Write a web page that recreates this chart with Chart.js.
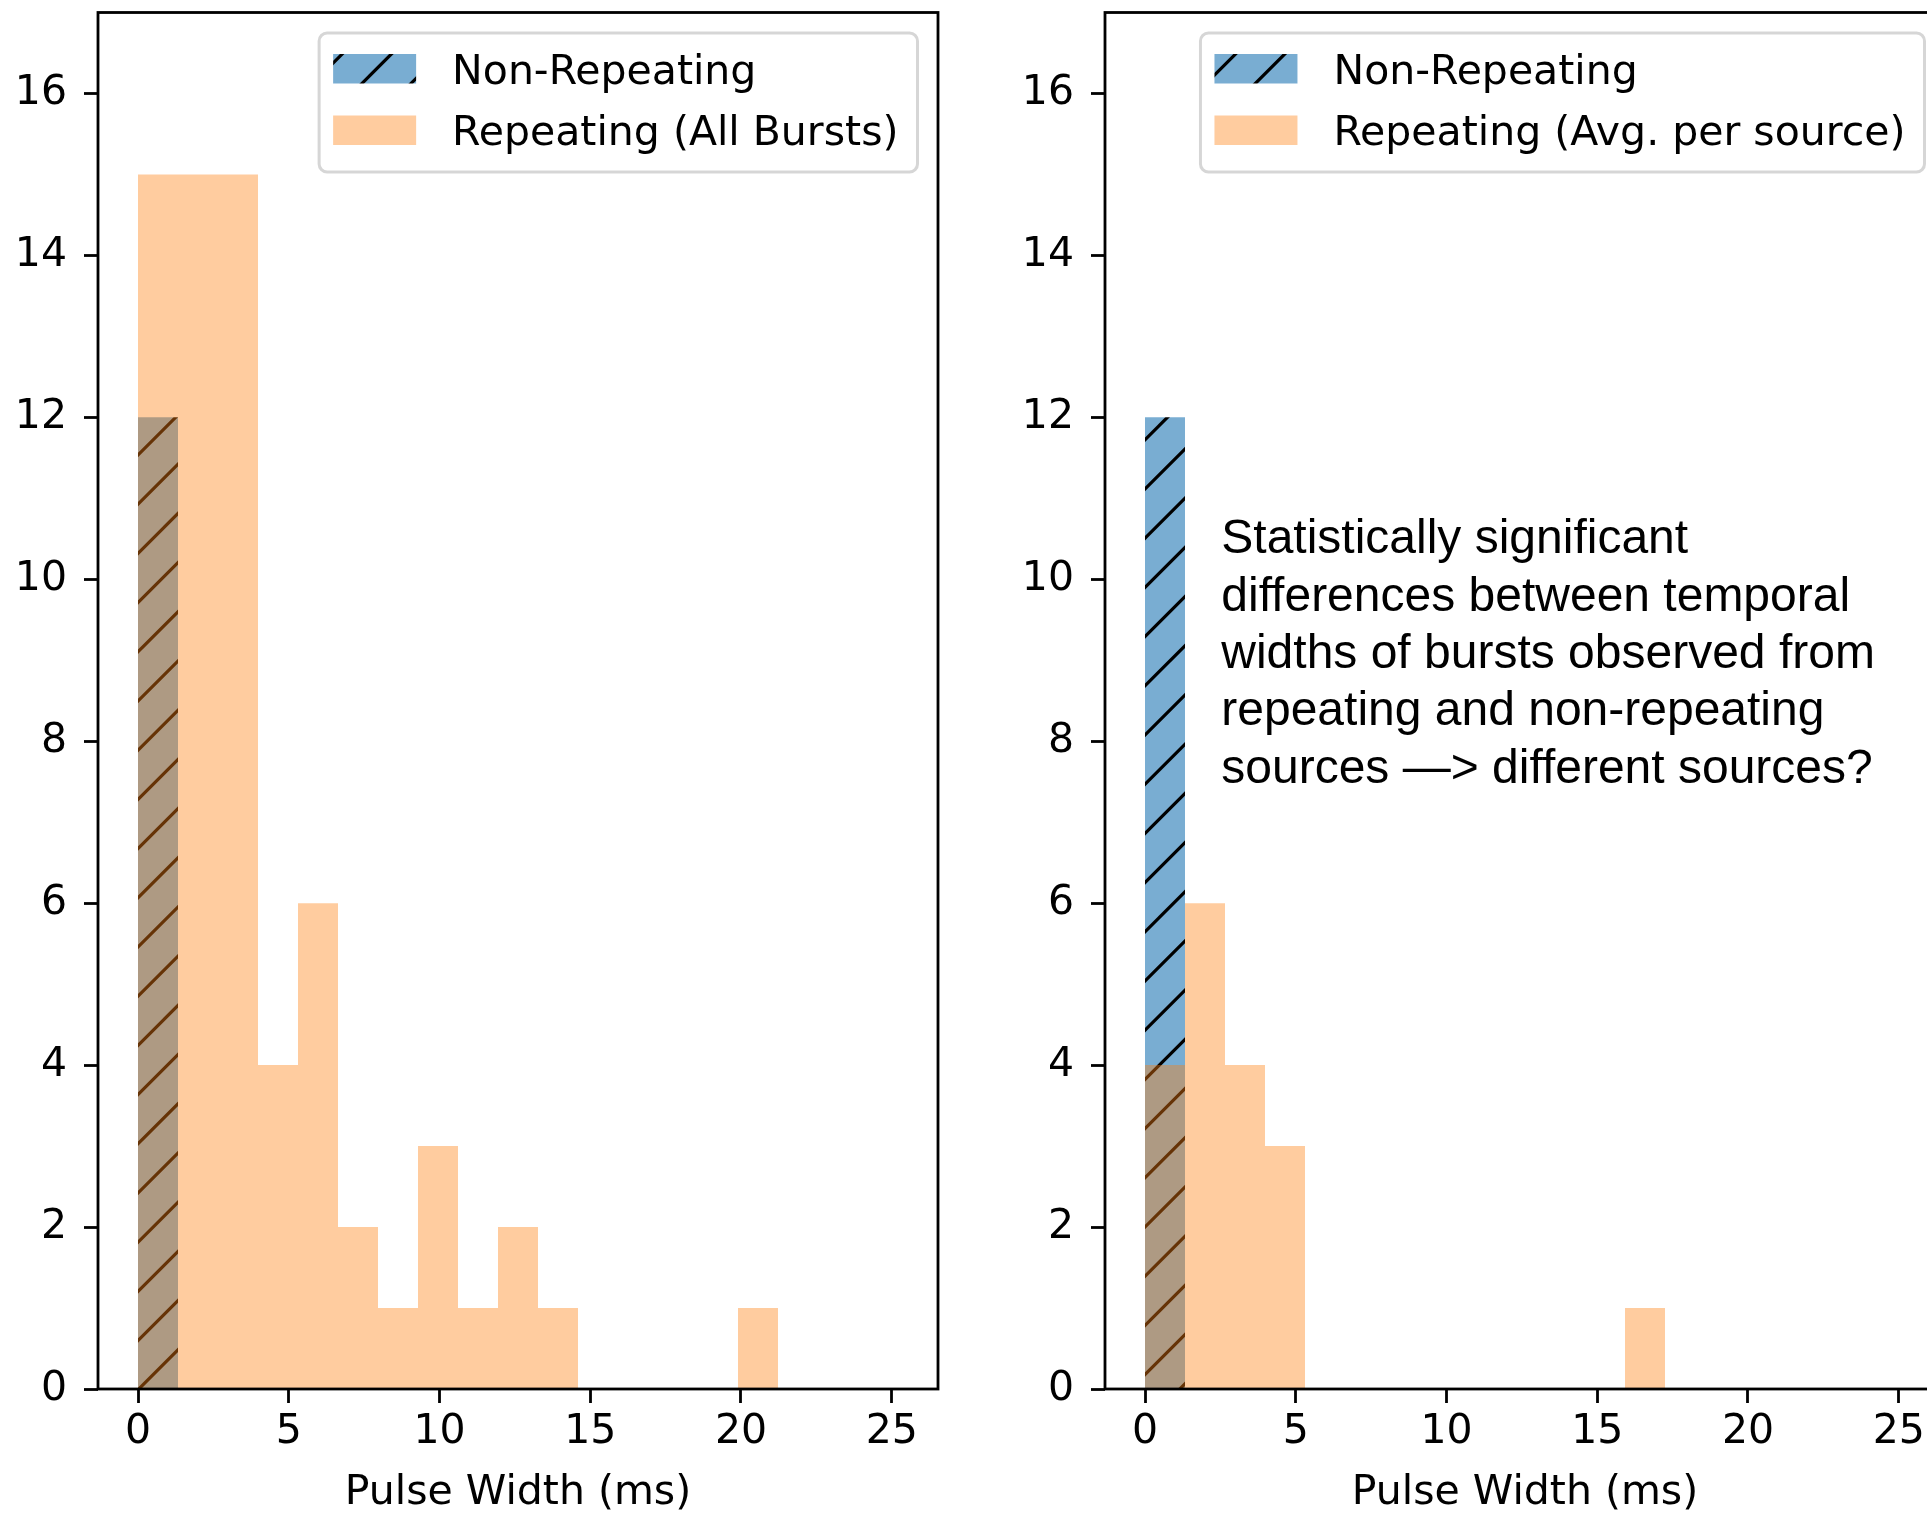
<!DOCTYPE html>
<html>
<head>
<meta charset="utf-8">
<script src="https://cdn.jsdelivr.net/npm/chart.js@4.4.1/dist/chart.umd.min.js"></script>
<style>
    html, body { margin: 0; padding: 0; background: #fff; overflow: hidden; }
    #wrap { position: relative; width: 1927px; height: 1517px; overflow: hidden; }
    canvas { position: absolute; top: 0; }
    #chart1 { left: 0; }
    #chart2 { left: 1007px; }
</style>
</head>
<body>
<div id="wrap">
    <canvas id="chart1" width="960" height="1517"></canvas>
    <canvas id="chart2" width="960" height="1517"></canvas>
</div>
<script>
// histogram bin edges, ms (19 bins)
var binEdges = [0, 1.3267, 2.6534, 3.9801, 5.3068, 6.6335, 7.9602, 9.2869, 10.6136, 11.9403, 13.267, 14.5937, 15.9204, 17.2471, 18.5738, 19.9005, 21.2272, 22.5539, 23.8806, 25.2073];
// counts per bin
var nonRepLeft = [12, 0, 0, 0, 0, 0, 0, 0, 0, 0, 0, 0, 0, 0, 0, 0, 0, 0, 0];
var repAllBursts = [15, 15, 15, 4, 6, 2, 1, 3, 1, 2, 1, 0, 0, 0, 0, 1, 0, 0, 0];
var nonRepRight = [12, 0, 0, 0, 0, 0, 0, 0, 0, 0, 0, 0, 0, 0, 0, 0, 0, 0, 0];
var repAvgSource = [4, 6, 4, 3, 0, 0, 0, 0, 0, 0, 0, 0, 1, 0, 0, 0, 0, 0, 0];
var xRange = [-1.3267, 26.534];
var yRange = [0, 17];
var xTickStep = 5;
var yTickStep = 2;
var noteLines = [
    "Statistically significant",
    "differences between temporal",
    "widths of bursts observed from",
    "repeating and non-repeating",
    "sources \u2014> different sources?"
];

var binCenters = [];
for (var i = 0; i < binEdges.length - 1; i++) {
    binCenters.push((binEdges[i] + binEdges[i + 1]) / 2);
}
function toPoints(counts) {
    return counts.map(function (c, i) { return { x: binCenters[i], y: c }; });
}

// "/" hatch over translucent blue, phase in canvas px
function hatch(phase) {
    var p = 49.2, n = 10, size = p * n;
    var c = document.createElement("canvas");
    c.width = size;
    c.height = size;
    var g = c.getContext("2d");
    g.fillStyle = "rgba(31,119,180,0.6)";
    g.fillRect(0, 0, size, size);
    g.strokeStyle = "#000";
    g.lineWidth = 3.2;
    for (var k = -2; k <= 2 * n + 2; k++) {
        var s = phase + k * p;
        g.beginPath();
        g.moveTo(s + p, -p);
        g.lineTo(-p, s + p);
        g.stroke();
    }
    return g.createPattern(c, "repeat");
}

var tickFont = { family: "'DejaVu Sans', sans-serif", size: 41 };

var framePlugin = {
    id: "frame",
    afterDatasetsDraw: function (chart) {
        var a = chart.chartArea, ctx = chart.ctx;
        ctx.save();
        ctx.strokeStyle = "#000";
        ctx.lineWidth = 2.8;
        ctx.strokeRect(a.left, a.top, a.right - a.left, a.bottom - a.top);
        ctx.restore();
    }
};

var noteText = {
    id: "noteText",
    afterDatasetsDraw: function (chart, args, opts) {
        if (!opts.lines) return;
        var ctx = chart.ctx;
        var x = chart.scales.x.getPixelForValue(opts.x);
        var y = chart.scales.y.getPixelForValue(opts.y);
        ctx.save();
        ctx.fillStyle = "#000";
        ctx.font = "48px 'Liberation Sans', Arial, sans-serif";
        ctx.textBaseline = "alphabetic";
        ctx.textAlign = "left";
        opts.lines.forEach(function (t, i) {
            ctx.fillText(t, x, y + i * 57.3);
        });
        ctx.restore();
    }
};

var boxLegend = {
    id: "boxLegend",
    afterDraw: function (chart) {
        var ctx = chart.ctx, a = chart.chartArea;
        var ds = chart.data.datasets;
        ctx.save();
        ctx.font = "41px 'DejaVu Sans', sans-serif";
        var tw = 0;
        ds.forEach(function (d) { tw = Math.max(tw, ctx.measureText(d.label).width); });
        var w = 14 + 83 + 36 + tw + 19, h = 139;
        var x = a.right - 20.5 - w, y = a.top + 20.5;
        ctx.beginPath();
        ctx.roundRect(x, y, w, h, 8);
        ctx.fillStyle = "rgba(255,255,255,0.8)";
        ctx.fill();
        ctx.strokeStyle = "rgba(204,204,204,0.8)";
        ctx.lineWidth = 3;
        ctx.stroke();
        ds.forEach(function (d, i) {
            var sy = y + 21 + i * 61.5;
            ctx.fillStyle = d.backgroundColor;
            ctx.fillRect(x + 14, sy, 83, 29.5);
            ctx.fillStyle = "#000";
            ctx.textBaseline = "alphabetic";
            ctx.fillText(d.label, x + 14 + 83 + 36, sy + 29.5);
        });
        ctx.restore();
    }
};

function histChart(id, nonRep, rep, repLabel, phase, note) {
    var canvas = document.getElementById(id);
    var hatchFill = hatch(phase);
    return new Chart(canvas, {
        type: "bar",
        data: {
            datasets: [
                {
                    label: "Non-Repeating",
                    data: toPoints(nonRep),
                    backgroundColor: hatchFill,
                    borderWidth: 0,
                    inflateAmount: 0,
                    order: 1
                },
                {
                    label: repLabel,
                    data: toPoints(rep),
                    backgroundColor: "rgba(255,127,14,0.4)",
                    borderWidth: 0,
                    inflateAmount: 0,
                    order: 0
                }
            ]
        },
        options: {
            responsive: false,
            animation: false,
            grouped: false,
            barPercentage: 1,
            categoryPercentage: 1,
            layout: { padding: { top: 12.5, right: 22, bottom: 0, left: 0 } },
            plugins: {
                legend: { display: false },
                tooltip: { enabled: false },
                noteText: note
            },
            scales: {
                x: {
                    type: "linear",
                    min: xRange[0],
                    max: xRange[1],
                    offset: false,
                    border: { display: false },
                    grid: { offset: false, drawOnChartArea: false, drawTicks: true, tickLength: 14, tickWidth: 2.8, tickColor: "#000" },
                    ticks: { stepSize: xTickStep, includeBounds: false, autoSkip: false, maxRotation: 0, color: "#000", font: tickFont, padding: 5 },
                    title: { display: true, text: "Pulse Width (ms)", color: "#000", font: tickFont, padding: { top: 0, bottom: -1 } },
                    afterFit: function (s) {
                        s.height = 128;
                        s.paddingLeft = 0;
                        s.paddingRight = 0;
                    }
                },
                y: {
                    min: yRange[0],
                    max: yRange[1],
                    border: { display: false },
                    grid: { drawOnChartArea: false, drawTicks: true, tickLength: 14, tickWidth: 2.8, tickColor: "#000" },
                    ticks: { stepSize: yTickStep, includeBounds: false, color: "#000", font: tickFont, padding: 17 },
                    afterFit: function (s) {
                        s.width = 98;
                        s.paddingTop = 0;
                        s.paddingBottom = 0;
                    }
                }
            }
        },
        plugins: [framePlugin, noteText, boxLegend]
    });
}

//chart 1
histChart("chart1", nonRepLeft, repAllBursts, "Repeating (All Bursts)", 2.6, {});
//chart 2
histChart("chart2", nonRepRight, repAvgSource, "Repeating (Avg. per source)", 36.6, { lines: noteLines, x: 2.53, y: 10.32 });
</script>
</body>
</html>
